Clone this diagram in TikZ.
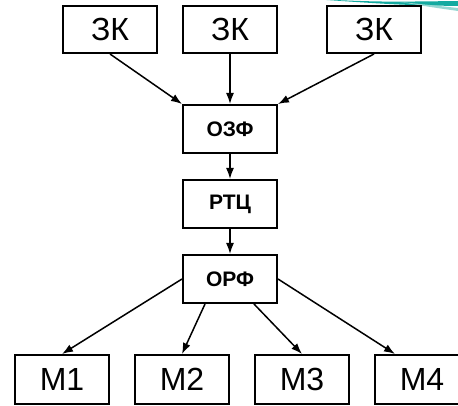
\documentclass[tikz,border=0pt]{standalone}
\usepackage{fontspec}
\setmainfont{Liberation Sans}
\usepackage{tikz}
\usetikzlibrary{arrows.meta, positioning}
\usepackage{xcolor}
\definecolor{swoosh}{RGB}{20,170,160}
\definecolor{swooshLight}{RGB}{150,215,210}

\begin{document}
\begin{tikzpicture}[
    x=1pt, y=-1pt,
    node distance=25pt and 24pt,
    bigBox/.style={
        rectangle,
        draw,
        line width=2pt,
        minimum width=94pt,
        minimum height=47pt,
        inner sep=0pt,
        font=\fontsize{32}{32}\selectfont
    },
    midBox/.style={
        rectangle,
        draw,
        line width=2pt,
        minimum width=94pt,
        minimum height=48pt,
        inner sep=0pt,
        font=\fontsize{21}{21}\selectfont\bfseries
    },
    link/.style={
        -{Latex[length=11pt,width=8pt]},
        line width=1.5pt
    }
]
\useasboundingbox (0,0) rectangle (458,406);

% Décor
\fill[swoosh] (312,-1) .. controls (380,2) .. (458,1) -- (458,6) .. controls (400,5) .. (312,-1);
\fill[swooshLight] (400,2) .. controls (430,5) .. (458,8) -- (458,11) .. controls (430,7) .. (400,2);

% Ligne du haut
\node[bigBox] (zk2) at (230,29.5) {ЗК};
\node[bigBox, left=of zk2] (zk1) {ЗК};
\node[bigBox, right=48pt of zk2] (zk3) {ЗК};

% Colonne centrale
\node[midBox, below=50pt of zk2] (ozf) {ОЗФ};
\node[midBox, below=of ozf] (rtc) {РТЦ};
\node[midBox, below=of rtc] (orf) {ОРФ};

% Ligne du bas
\node[bigBox, minimum height=49pt] (m2) at (182,379.5) {М2};
\node[bigBox, minimum height=49pt, left=of m2] (m1) {М1};
\node[bigBox, minimum height=49pt, right=of m2] (m3) {М3};
\node[bigBox, minimum height=49pt, right=of m3] (m4) {М4};

% Flèches
\draw[link] (zk1.south) -- (ozf.north west);
\draw[link] (zk2.south) -- (ozf.north);
\draw[link] (zk3.south) -- (ozf.north east);
\draw[link] (ozf) -- (rtc);
\draw[link] (rtc) -- (orf);
\draw[link] (orf.west) -- (m1.north);
\draw[link] ([xshift=-25pt]orf.south) -- (m2.north);
\draw[link] ([xshift=24pt]orf.south) -- (m3.north);
\draw[link] (orf.east) -- ([xshift=-27pt]m4.north);

\end{tikzpicture}
\end{document}
